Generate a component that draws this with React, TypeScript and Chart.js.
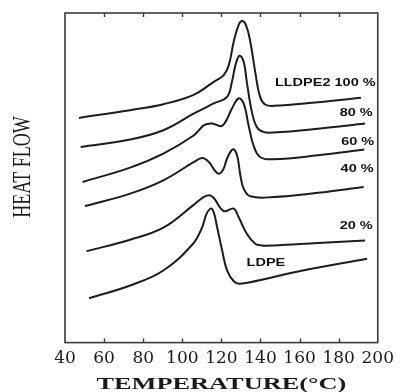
import React, { useEffect, useRef } from "react";
import { Chart, registerables } from "chart.js";

Chart.register(...registerables);

// X axis (temperature, °C)
const xTicks = [40, 60, 80, 100, 120, 140, 160, 180, 200];

// Heat-flow curves (arbitrary units, offset stacked)
const temp100 = [47.1, 73.3, 90.3, 105.5, 116.1, 121.2, 123.8, 126.3, 128.8, 130.6, 132.6, 134.8, 137.3, 139.8, 142.4, 146.6, 169.4, 191.4];
const heat100 = [224.3, 232, 238, 247, 260.3, 267, 277, 300.3, 317, 321, 317, 300.3, 270.3, 245.3, 237.7, 236.3, 240, 244.3];

const temp80 = [48.0, 73.3, 90.3, 106.0, 116.1, 122.9, 125.4, 127.2, 129.3, 131.4, 133.0, 135.6, 138.1, 141.5, 146.6, 169.4, 193.5];
const heat80 = [195.3, 202.7, 212, 228.7, 238.7, 245.3, 260.3, 277, 286.3, 280.3, 260.3, 230.3, 215.3, 210.3, 209.7, 213.5, 218.7];

const temp60 = [49.0, 73.3, 90.3, 106.0, 111.1, 115.3, 119.8, 122.1, 125.4, 128.8, 131.4, 133.9, 136.4, 139.8, 146.6, 169.4, 193.1];
const heat60 = [160.3, 174.7, 188.7, 207, 217, 218.7, 216, 220.3, 233.7, 243.7, 238.7, 217, 197, 185.3, 183, 187, 192.7];

const temp40 = [50.2, 73.3, 90.3, 106.0, 110.2, 113.6, 116.6, 118.7, 121.0, 122.9, 125.9, 128.0, 129.7, 131.4, 134.8, 146.6, 169.4, 192.8];
const heat40 = [136.3, 148.7, 162, 180.3, 184.3, 180.3, 172, 168.5, 173, 183.7, 193, 187, 167, 153.7, 146, 145.3, 149.5, 155.3];

const temp20 = [51.0, 73.3, 90.3, 105.5, 110.3, 113.6, 116.1, 121.2, 126.3, 128.8, 133.0, 137.3, 140.7, 146.6, 169.4, 193.5];
const heat20 = [91.3, 102.7, 114.7, 137, 144.5, 147, 144.3, 131.3, 133.7, 125.3, 108.7, 98.7, 97, 97, 99.5, 102];

const tempLDPE = [52.3, 73.3, 90.3, 105.5, 110.2, 112.3, 114.5, 116.1, 117.8, 120.4, 122.9, 126.3, 129.7, 159.3, 194.5];
const heatLDPE = [44.3, 57, 72, 98.7, 115.3, 128, 133.7, 130, 115.3, 92, 72, 61.3, 58.7, 71, 83.7];

const seriesNames = ["LLDPE2 100 %", "80 %", "60 %", "40 %", "20 %", "LDPE"];
const seriesTemps = [temp100, temp80, temp60, temp40, temp20, tempLDPE];
const seriesHeats = [heat100, heat80, heat60, heat40, heat20, heatLDPE];

// curve label anchors (data units) and alignment
const labelTemps = [198.9, 197.4, 198.2, 197.9, 197.4, 142.8];
const labelHeats = [259.3, 229.3, 200.3, 172.7, 116.3, 79];
const labelAligns = ["right", "right", "right", "right", "right", "center"];

const xTitle = "TEMPERATURE(°C)";
const yTitle = "HEAT FLOW";

const decorPlugin = {
  id: "decor",
  afterDraw(chart: any) {
    const ctx = chart.ctx as CanvasRenderingContext2D;
    const a = chart.chartArea;
    const xs = chart.scales.x;
    const ys = chart.scales.y;
    ctx.save();
    // frame
    ctx.strokeStyle = "#3a3a3a";
    ctx.lineWidth = 1.6;
    ctx.strokeRect(a.left, a.top, a.right - a.left, a.bottom - a.top);
    // inward tick marks top & bottom
    ctx.lineWidth = 1.4;
    xTicks.forEach((t, i) => {
      if (i === 0 || i === xTicks.length - 1) return;
      const px = Math.round(xs.getPixelForValue(t)) + 0.5;
      ctx.beginPath();
      ctx.moveTo(px, a.bottom);
      ctx.lineTo(px, a.bottom - 4);
      ctx.moveTo(px, a.top);
      ctx.lineTo(px, a.top + 4);
      ctx.stroke();
    });
    // curve labels
    ctx.fillStyle = "#111";
    ctx.font = 'bold 10px "Liberation Sans", Arial, sans-serif';
    ctx.textBaseline = "middle";
    seriesNames.forEach((name, i) => {
      const px = xs.getPixelForValue(labelTemps[i]);
      const py = ys.getPixelForValue(labelHeats[i]);
      ctx.save();
      ctx.translate(px, py);
      ctx.scale(1.45, 1);
      ctx.textAlign = labelAligns[i] as CanvasTextAlign;
      ctx.fillText(name, 0, 0);
      ctx.restore();
    });
    // x title
    ctx.fillStyle = "#1a1a1a";
    ctx.font = 'bold 17px "Liberation Serif", "Times New Roman", serif';
    const w = ctx.measureText(xTitle).width;
    ctx.save();
    ctx.translate((a.left + a.right) / 2, 389);
    ctx.scale(250 / w, 1);
    ctx.textAlign = "center";
    ctx.textBaseline = "alphabetic";
    ctx.fillText(xTitle, 0, 0);
    ctx.restore();
    // y title
    ctx.font = '18px "Liberation Serif", "Times New Roman", serif';
    ctx.save();
    ctx.translate(24, 167);
    ctx.rotate(-Math.PI / 2);
    ctx.scale(1, 1.35);
    ctx.textAlign = "center";
    ctx.textBaseline = "middle";
    ctx.fillText(yTitle, 0, 0);
    ctx.restore();
    ctx.restore();
  },
};

export default function App() {
  const ref = useRef<HTMLCanvasElement | null>(null);
  useEffect(() => {
    document.body.style.margin = "0";
    if (!ref.current) return;
    const datasets = seriesNames.map((name, i) => ({
      label: name,
      data: seriesTemps[i].map((t, j) => ({ x: t, y: seriesHeats[i][j] })),
      borderColor: "#1c1c1c",
      borderWidth: 2,
      pointRadius: 0,
      fill: false,
      tension: 0.4,
    }));
    const chart = new Chart(ref.current, {
      type: "line",
      data: { datasets },
      plugins: [decorPlugin],
      options: {
        animation: false,
        responsive: false,
        maintainAspectRatio: false,
        layout: { padding: { left: 65, right: 20, top: 13, bottom: 17 } },
        plugins: { legend: { display: false }, tooltip: { enabled: false }, title: { display: false } },
        scales: {
          x: {
            type: "linear",
            min: 40,
            max: 200,
            afterBuildTicks: (scale: any) => {
              scale.ticks = xTicks.map((v) => ({ value: v }));
            },
            grid: { display: false, drawTicks: false },
            border: { display: false },
            ticks: {
              autoSkip: false,
              maxRotation: 0,
              padding: 6,
              color: "#1a1a1a",
              font: { family: '"DejaVu Serif", serif', size: 17 },
            },
          },
          y: {
            type: "linear",
            min: 0,
            max: 329,
            display: false,
          },
        },
      },
    });
    return () => chart.destroy();
  }, []);
  return <canvas ref={ref} width={400} height={392} style={{ display: "block", width: 400, height: 392 }} />;
}
